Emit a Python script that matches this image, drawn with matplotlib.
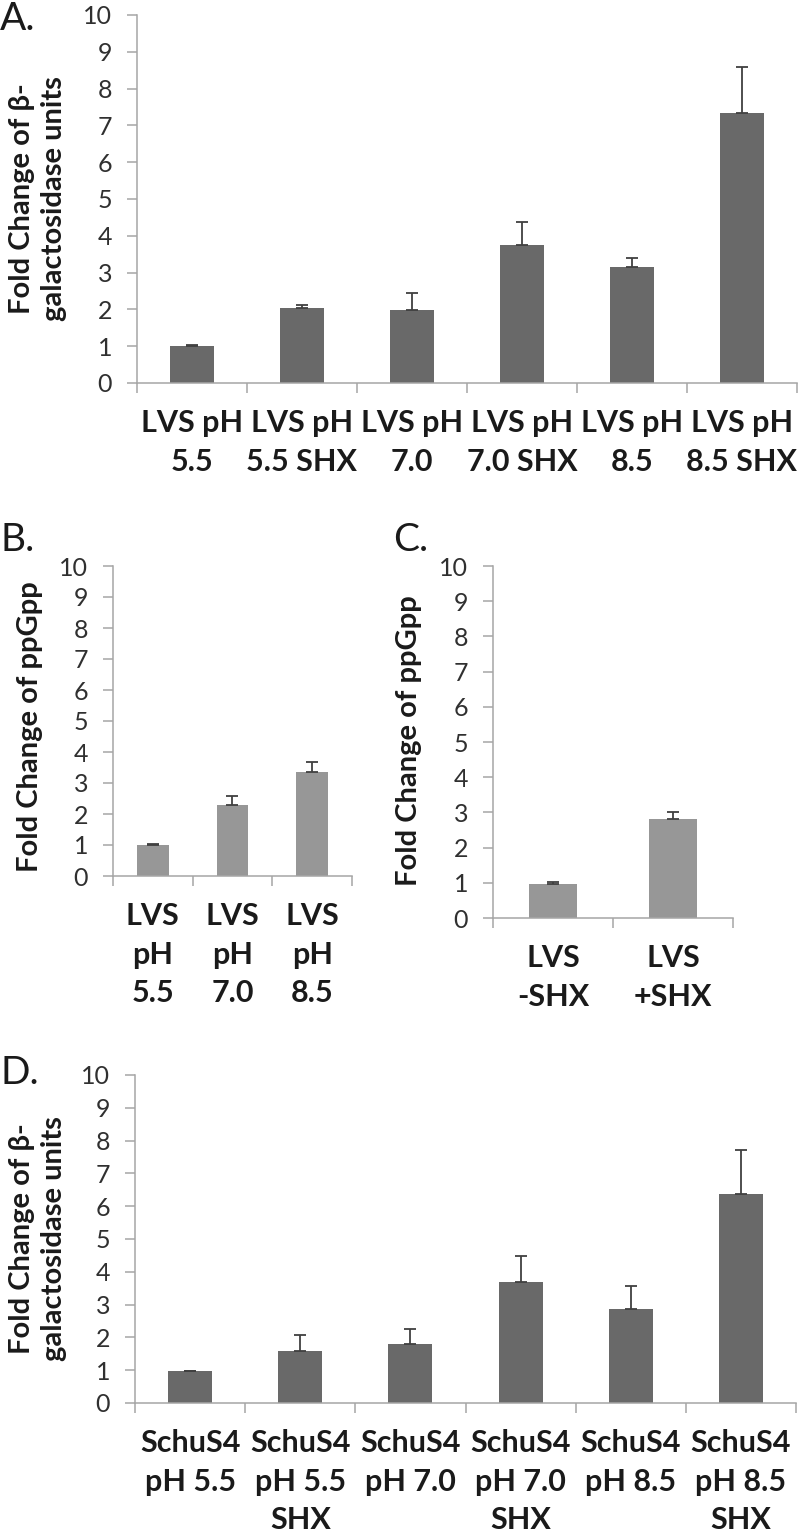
import matplotlib
matplotlib.use('Agg')
import matplotlib.pyplot as plt
import numpy as np

plt.rcParams['font.family'] = ['Lato', 'DejaVu Sans']

# ---- data ----
catsA = ["LVS pH\n5.5", "LVS pH\n5.5 SHX", "LVS pH\n7.0", "LVS pH\n7.0 SHX",
         "LVS pH\n8.5", "LVS pH\n8.5 SHX"]
valsA = [1.0, 2.03, 1.98, 3.75, 3.16, 7.33]
errA = [0.02, 0.08, 0.47, 0.62, 0.23, 1.27]

catsB = ["LVS\npH\n5.5", "LVS\npH\n7.0", "LVS\npH\n8.5"]
valsB = [1.0, 2.29, 3.36]
errB = [0.02, 0.30, 0.32]

catsC = ["LVS\n-SHX", "LVS\n+SHX"]
valsC = [0.98, 2.82]
errC = [0.03, 0.19]

catsD = ["SchuS4\npH 5.5", "SchuS4\npH 5.5\nSHX", "SchuS4\npH 7.0",
         "SchuS4\npH 7.0\nSHX", "SchuS4\npH 8.5", "SchuS4\npH 8.5\nSHX"]
valsD = [0.97, 1.59, 1.80, 3.69, 2.87, 6.38]
errD = [0.02, 0.49, 0.46, 0.80, 0.71, 1.34]

yticks = list(range(0, 11))

ylabel_beta = "Fold Change of \u03b2-\ngalactosidase units"
ylabel_ppgpp = "Fold Change of ppGpp"

# ---- style ----
DARK = '#696969'
LIGHT = '#979797'
SPINE = '#a6a6a6'
TICKTXT = '#303030'
LABTXT = '#1a1a1a'
ERR = '#404040'

W, H = 800, 1539
fig = plt.figure(figsize=(W / 100, H / 100), dpi=100)


def px_axes(left, top, right, bottom):
    return fig.add_axes([left / W, 1 - bottom / H, (right - left) / W, (bottom - top) / H])


def draw(ax, cats, vals, errs, color):
    n = len(cats)
    x = np.arange(n)
    ax.bar(x, vals, width=0.4, color=color, zorder=2)
    ax.errorbar(x, vals, yerr=[np.zeros(n), errs], fmt='none', ecolor=ERR,
                elinewidth=1.3, capsize=4, capthick=1.3, zorder=3)
    ax.set_xlim(-0.5, n - 0.5)
    ax.set_ylim(0, 10)
    ax.set_yticks(yticks)
    ax.set_xticks(x)
    ax.set_xticklabels(cats, fontweight='bold', fontsize=22, color=LABTXT)
    for t in ax.get_xticklabels():
        t.set_linespacing(1.45)
    ax.set_xticks(np.arange(n + 1) - 0.5, minor=True)
    ax.tick_params(axis='x', which='major', length=0, pad=19)
    ax.tick_params(axis='x', which='minor', length=7, width=1.1, color=SPINE)
    ax.tick_params(axis='y', which='major', length=7, width=1.1, color=SPINE,
                   pad=11, labelsize=18, labelcolor=TICKTXT)
    for s in ['top', 'right']:
        ax.spines[s].set_visible(False)
    for s in ['left', 'bottom']:
        ax.spines[s].set_color(SPINE)
        ax.spines[s].set_linewidth(1.1)


axA = px_axes(137, 15, 797, 383)
draw(axA, catsA, valsA, errA, DARK)
axB = px_axes(113, 566, 352, 876)
draw(axB, catsB, valsB, errB, LIGHT)
axC = px_axes(493, 566, 733, 918)
draw(axC, catsC, valsC, errC, LIGHT)
axD = px_axes(135, 1075, 796, 1403)
draw(axD, catsD, valsD, errD, DARK)

# y labels
fig.text(38 / W, 1 - 199 / H, ylabel_beta, rotation=90, ha='center', va='center',
         multialignment='center', fontsize=21, fontweight='bold', color=LABTXT,
         linespacing=1.25)
fig.text(30 / W, 1 - 727 / H, ylabel_ppgpp, rotation=90, ha='center', va='center',
         fontsize=21, fontweight='bold', color=LABTXT)
fig.text(409 / W, 1 - 741 / H, ylabel_ppgpp, rotation=90, ha='center', va='center',
         fontsize=21, fontweight='bold', color=LABTXT)
fig.text(38 / W, 1 - 1239 / H, ylabel_beta, rotation=90, ha='center', va='center',
         multialignment='center', fontsize=21, fontweight='bold', color=LABTXT,
         linespacing=1.25)

# panel letters
for lab, xp, yp in [("A.", 0, 1), ("B.", 0, 522), ("C.", 393, 522), ("D.", 0, 1055)]:
    fig.text(xp / W, 1 - yp / H, lab, ha='left', va='top', fontsize=28, color=LABTXT)

fig.savefig('out.png', dpi=100)
